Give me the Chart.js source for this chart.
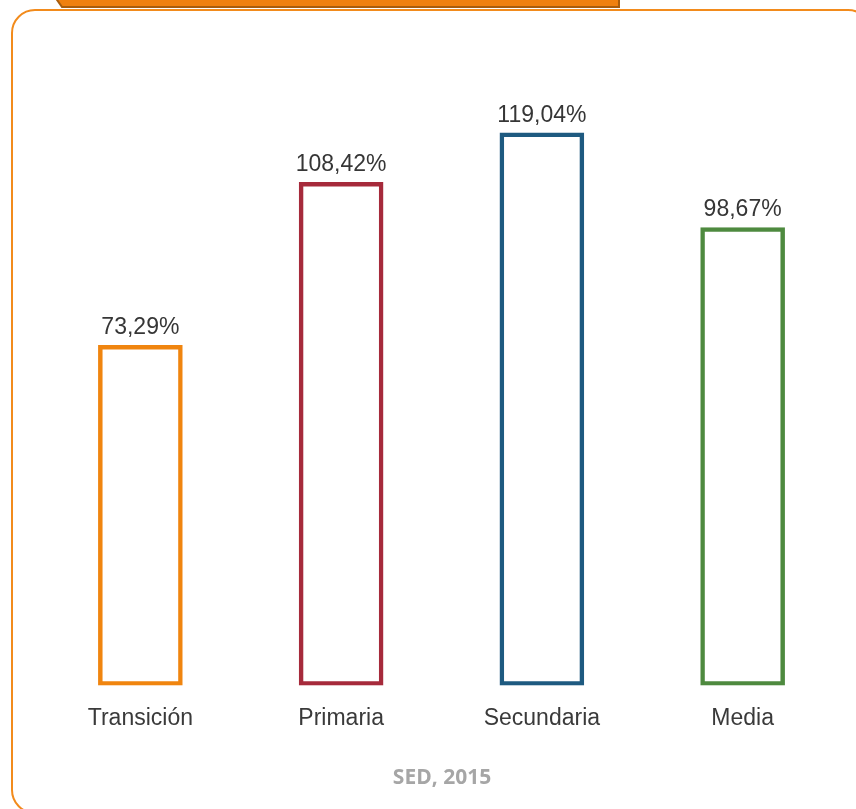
<!DOCTYPE html>
<html lang="es">
<head>
    <meta charset="UTF-8">
    <title>Tasa de cobertura bruta</title>
    <script src="https://cdn.jsdelivr.net/npm/chart.js@4"></script>
    <style>
        body{
            margin: 0;
            width: 856px;
            height: 809px;
            overflow: hidden;
            background-color: #ffffff;
            position: relative;
        }
        .tarjeta{
            position: absolute;
            left: 11px;
            top: 9px;
            width: 861px;
            height: 805px;
            border: 2px solid #f28b1c;
            border-radius: 24px;
            box-sizing: border-box;
        }
        .pestana{
            position: absolute;
            left: 0;
            top: 0;
        }
        .grafica{
            position: absolute;
            left: 0;
            top: 0;
            width: 856px;
            height: 809px;
        }
        .fuente{
            position: absolute;
            left: 14px;
            width: 856px;
            top: 762px;
            text-align: center;
            font-family: 'Open Sans', sans-serif;
            font-weight: bold;
            font-size: 21px;
            color: #a6a6a6;
        }
    </style>
</head>
<body>
    <div class="tarjeta"></div>
    <svg class="pestana" width="856" height="12">
        <polygon points="55,-3 619,-3 619,7 62,7" fill="#ef800f" stroke="#a85c0c" stroke-width="2"></polygon>
    </svg>
    <div class="grafica">
        <canvas id="miCanvas" width="856" height="809"></canvas>
    </div>
    <div class="fuente">SED, 2015</div>

    <script>
        // datos
        const niveles = ["Transición", "Primaria", "Secundaria", "Media"];
        const cobertura = [73.29, 108.42, 119.04, 98.67];
        const colores = ["#f0850f", "#a62a3b", "#1e5a80", "#4e8a3f"];

        const etiquetas = {
            id: "etiquetas",
            afterDatasetsDraw(chart) {
                const ctx = chart.ctx;
                const meta = chart.getDatasetMeta(0);
                ctx.save();
                ctx.font = "23px 'Liberation Sans', Arial, sans-serif";
                ctx.fillStyle = "#363636";
                ctx.textAlign = "center";
                ctx.textBaseline = "alphabetic";
                meta.data.forEach((barra, i) => {
                    const texto = cobertura[i].toFixed(2).replace(".", ",") + "%";
                    ctx.fillText(texto, barra.x, barra.y - 11);
                });
                ctx.restore();
            }
        };

        const miCanvas = document.getElementById("miCanvas").getContext("2d");
        new Chart(miCanvas, {
            type: "bar",
            data: {
                labels: niveles,
                datasets: [{
                    data: cobertura,
                    backgroundColor: "#ffffff",
                    borderColor: colores,
                    borderWidth: 4.5,
                    borderSkipped: false,
                    barThickness: 84
                }]
            },
            options: {
                responsive: false,
                animation: false,
                layout: {
                    padding: {left: 40, right: 13, top: 38, bottom: 58}
                },
                plugins: {
                    legend: {display: false},
                    tooltip: {enabled: false}
                },
                scales: {
                    x: {
                        grid: {display: false, drawTicks: false},
                        border: {display: false},
                        ticks: {
                            padding: 19,
                            color: "#3a3a3a",
                            font: {family: "'Liberation Sans', Arial, sans-serif", size: 23}
                        }
                    },
                    y: {
                        display: false,
                        min: 0,
                        max: 139.5
                    }
                }
            },
            plugins: [etiquetas]
        });
    </script>
</body>
</html>
